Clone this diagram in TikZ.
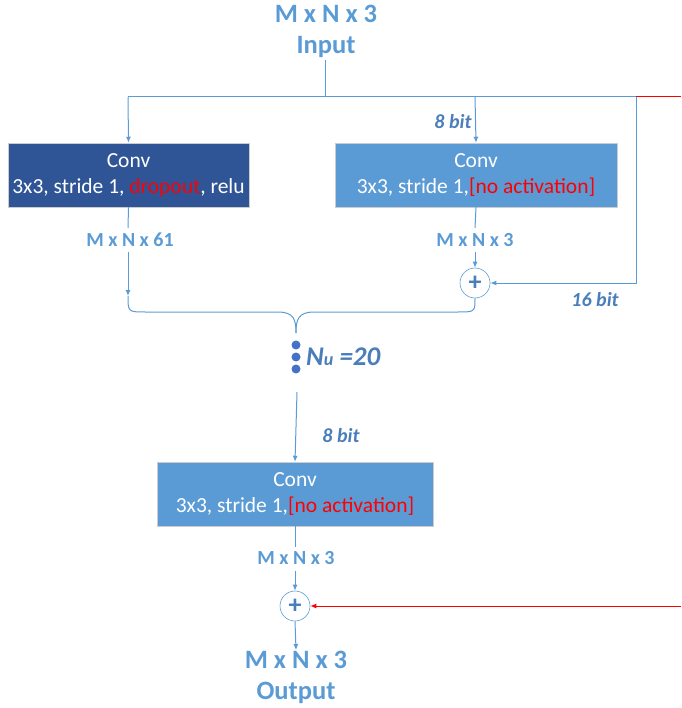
\documentclass[tikz,border=0pt]{standalone}
\usepackage{fontspec}
\setmainfont{Carlito}
\usetikzlibrary{arrows.meta}
\definecolor{lblue}{HTML}{5B9BD5}
\definecolor{dblue}{HTML}{2F5597}
\definecolor{tblue}{HTML}{4A7EBB}
\definecolor{dotblue}{HTML}{4472C4}
\definecolor{ared}{HTML}{FF0000}
\tikzset{
  conn/.style={draw=lblue, line width=1pt},
  arr/.style={conn, -{Latex[length=6pt,width=5pt]}},
  redarr/.style={draw=ared, line width=1pt, -{Latex[length=6pt,width=5pt]}},
  convbox/.style={draw=white!80!black, line width=0.5pt, minimum height=64pt, text=white, align=center, font=\fontsize{21.5}{26}\selectfont, inner sep=0pt},
  dimlabel/.style={text=lblue, font=\bfseries\fontsize{20}{22}\selectfont, inner sep=1pt},
  bitlabel/.style={text=tblue, font=\bfseries\itshape\fontsize{20}{22}\selectfont, inner sep=1pt},
  biglabel/.style={text=lblue, font=\bfseries\fontsize{26.5}{31}\selectfont, align=center, inner sep=1pt},
  plusnode/.style={circle, draw=lblue, line width=0.6pt, fill=white, minimum size=30pt, inner sep=0pt, text=tblue, font=\bfseries\fontsize{26}{26}\selectfont},
  dotn/.style={circle, fill=dotblue, minimum size=9pt, inner sep=0pt}
}
\begin{document}
\begin{tikzpicture}[x=1pt,y=-1pt]
\useasboundingbox (0,0) rectangle (681,708);
% input
\node[biglabel] (in) at (326,31) {M x N x 3\\Input};
\coordinate (inb) at (325,60);
\coordinate (j) at (325,97);
\coordinate (jl) at (128,97);
\coordinate (jm) at (475,97);
\coordinate (jr) at (636,97);
\coordinate (redr) at (681,97);
% boxes
\node[convbox, fill=dblue, minimum width=241pt] (c1) at (128.5,175) {Conv\\3x3, stride 1, \textcolor{ared}{dropout}, relu};
\node[convbox, fill=lblue, minimum width=282pt] (c2) at (476,175) {Conv\\3x3, stride 1,\textcolor{ared}{[no activation]}};
\node[convbox, fill=lblue, minimum width=276pt] (c3) at (295,494) {Conv\\3x3, stride 1,\textcolor{ared}{[no activation]}};
% top connectors
\draw[conn] (inb) -- (j);
\draw[conn] (jl) -- (jr);
\draw[draw=ared, line width=1pt] (jr) -- (redr);
\draw[arr] (jl) -- (c1.north);
\draw[arr] (jm) -- (c2.north);
\node[bitlabel] (b8a) at (453,122) {8 bit};
% left branch
\node[dimlabel] (d61) at (130,240) {M x N x 61};
\draw[conn] (c1.south) -- (128,228);
\coordinate (l1) at (128,252);
\coordinate (l2) at (128,296);
\draw[arr] (l1) -- (l2);
% right branch
\node[dimlabel] (d3a) at (475,240) {M x N x 3};
\draw[conn] (c2.south) -- (475,228);
\node[plusnode] (p1) at (475,283) {+};
\draw[arr] (475,252) -- (p1.north);
\coordinate (rc) at (636,283);
\draw[arr] (jr) -- (rc) -- (p1.east);
\node[bitlabel] (b16) at (595,300) {16 bit};
% brace
\coordinate (cusp) at (296,333);
\draw[conn] (l2) .. controls (128,312) .. (146,312) -- (278,312) .. controls (294,312) and (296,320) .. (cusp);
\draw[conn] (p1.south) .. controls (475,312) .. (457,312) -- (314,312) .. controls (298,312) and (296,320) .. (cusp);
% dots
\node[dotn] (dt1) at (296,345) {};
\node[dotn] (dt2) at (296,357) {};
\node[dotn] (dt3) at (296,369) {};
\node[bitlabel, anchor=west, font=\bfseries\itshape\fontsize{27}{30}\selectfont] (nu) at (305,357) {N{\fontsize{18}{18}\selectfont u} =20};
% lower
\coordinate (lt) at (297,392);
\draw[arr] (lt) -- (c3.north);
\node[bitlabel] (b8b) at (341,436) {8 bit};
\node[dimlabel] (d3b) at (296,558) {M x N x 3};
\draw[conn] (c3.south) -- (295,547);
\node[plusnode] (p2) at (295,606) {+};
\draw[arr] (295,571) -- (p2.north);
\coordinate (rr) at (681,606);
\draw[redarr] (rr) -- (p2.east);
\node[biglabel, anchor=north] (out) at (296,650) {M x N x 3\\Output};
\draw[arr] (p2.south) -- (out.north);
\end{tikzpicture}
\end{document}
